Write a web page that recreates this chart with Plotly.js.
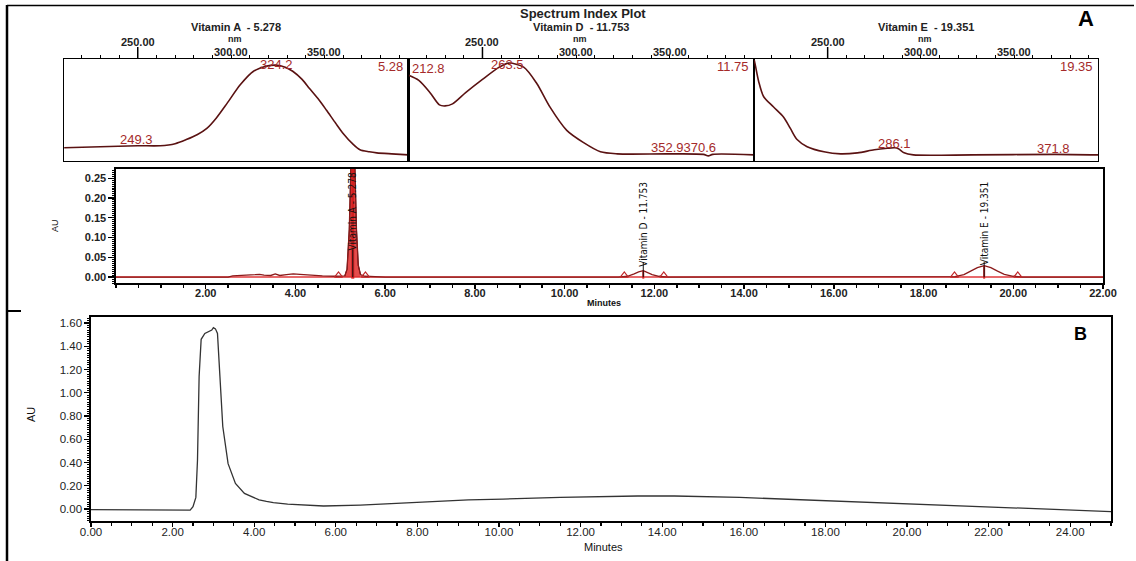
<!DOCTYPE html>
<html>
<head>
<meta charset="utf-8">
<script src="https://cdn.plot.ly/plotly-3.0.1.min.js"></script>
<style>html,body{margin:0;padding:0;background:#fff;}#chart{width:1136px;height:561px;}</style>
</head>
<body>
<div id="chart"></div>
<script>
// ---------- Spectrum Index Plot data (wavelength nm, relative absorbance) ----------
const spectrumTitles = ['Vitamin A  - 5.278', 'Vitamin D  - 11.753', 'Vitamin E  - 19.351'];
const spectrumRT = ['5.28', '11.75', '19.35'];
const vitA_nm  = [210.6, 230, 250, 262, 270, 276, 282, 287, 292, 298, 305, 312, 319, 324, 329, 333, 338, 342, 347, 351, 356, 360, 365, 369, 374, 378, 386, 395];
const vitA_abs = [0.13, 0.14, 0.15, 0.15, 0.17, 0.21, 0.26, 0.32, 0.42, 0.57, 0.75, 0.88, 0.93, 0.94, 0.92, 0.88, 0.80, 0.71, 0.60, 0.50, 0.37, 0.27, 0.17, 0.11, 0.09, 0.08, 0.07, 0.06];
const vitD_nm  = [210.6, 216, 222, 227, 230, 234, 241, 250, 259, 264, 272, 279, 286, 295, 304, 313, 322, 349, 368, 370.6, 373, 395];
const vitD_abs = [0.84, 0.79, 0.67, 0.55, 0.54, 0.56, 0.67, 0.80, 0.92, 0.96, 0.92, 0.76, 0.53, 0.30, 0.18, 0.09, 0.07, 0.07, 0.065, 0.05, 0.065, 0.06];
const vitE_nm  = [210.6, 211.2, 213, 215.7, 221, 226.4, 230, 233.6, 239, 248, 257, 266, 275, 282, 286, 288, 291, 296, 328, 371.8, 395];
const vitE_abs = [0.99, 0.94, 0.78, 0.63, 0.53, 0.43, 0.32, 0.21, 0.14, 0.09, 0.07, 0.08, 0.11, 0.125, 0.13, 0.12, 0.08, 0.06, 0.06, 0.065, 0.06];
const specAxisLabels = [250, 300, 350];
// peak wavelength labels per panel: [text, wavelength, absorbance position]
const specA_labels = [['249.3', 249.3, 0.21], ['324.2', 324.2, 0.945]];
const specD_labels = [['263.5', 263.5, 0.95], ['352.9370.6', 357.3, 0.137]];
const specE_labels = [['286.1', 285.8, 0.176], ['371.8', 371.0, 0.118]];
const specD_left = ['212.8', 211.2, 0.91];

// ---------- Chromatogram A (minutes, AU) ----------
const chromA_time = [0, 2.5, 2.6, 2.7, 2.9, 3.1, 3.2, 3.3, 3.45, 3.55, 3.65, 3.8, 3.95, 4.1, 4.3, 4.6, 4.9, 5.0, 5.1, 5.15, 5.2, 5.24, 5.278, 5.32, 5.36, 5.4, 5.45, 5.55, 5.7, 6.0, 11.2, 11.4, 11.55, 11.65, 11.753, 11.85, 11.95, 12.1, 12.3, 18.7, 18.9, 19.05, 19.2, 19.351, 19.5, 19.65, 19.8, 20.0, 20.2, 22];
const chromA_au   = [0, 0, 0.003, 0.004, 0.005, 0.006, 0.007, 0.005, 0.004, 0.008, 0.004, 0.006, 0.008, 0.007, 0.005, 0.003, 0.002, 0.002, 0.003, 0.02, 0.12, 0.30, 0.45, 0.30, 0.12, 0.03, 0.006, 0.002, 0.001, 0, 0, 0.002, 0.008, 0.013, 0.016, 0.012, 0.006, 0.002, 0, 0.001, 0.006, 0.015, 0.024, 0.029, 0.024, 0.015, 0.007, 0.002, 0, 0];
const peakNames = ['Vitamin A - 5.278', 'Vitamin D - 11.753', 'Vitamin E - 19.351'];
const peakRT    = [5.278, 11.753, 19.351];
const peakApex  = [0.45, 0.016, 0.029];
const peakStart = [4.96, 11.33, 18.69];
const peakEnd   = [5.56, 12.21, 20.10];
const peakLabelY = [0.165, 0.133, 0.134];

// ---------- Chromatogram B (minutes, AU) ----------
const chromB_time = [0, 1.3, 2.43, 2.5, 2.57, 2.61, 2.65, 2.7, 2.79, 2.96, 3.0, 3.05, 3.1, 3.16, 3.23, 3.36, 3.54, 3.76, 4.12, 4.3, 4.47, 4.82, 5.7, 6.6, 7.5, 8.4, 9.25, 10.1, 11.5, 13.4, 14.3, 15.9, 16.9, 18.7, 20.4, 22.2, 23.9, 25];
const chromB_au   = [-0.005, -0.01, -0.01, 0.02, 0.10, 0.42, 1.14, 1.46, 1.51, 1.54, 1.56, 1.55, 1.51, 1.14, 0.71, 0.39, 0.22, 0.135, 0.078, 0.065, 0.055, 0.043, 0.026, 0.034, 0.049, 0.063, 0.078, 0.086, 0.10, 0.112, 0.112, 0.10, 0.086, 0.063, 0.04, 0.014, -0.01, -0.022];

// ---------- layout helpers ----------
const W = 1136, H = 561;
const px = v => v / W;
const py = v => 1 - v / H;
const SPEC_RED = '#a52a2a';
const SPEC_LINE = '#5a1212';
const FONT = 'Liberation Sans, Arial, sans-serif';
const NARROW = 'Liberation Sans Narrow, DejaVu Sans Condensed, Arial Narrow, sans-serif';

const specDomainsX = [[px(64), px(408.5)], [px(408.5), px(754)], [px(754), px(1098)]];
const specDomainY = [py(161), py(59)];
const specData = [[vitA_nm, vitA_abs], [vitD_nm, vitD_abs], [vitE_nm, vitE_abs]];

const traces = [];
const layout = {
  width: W, height: H,
  margin: {l: 0, r: 0, t: 0, b: 0, pad: 0},
  paper_bgcolor: '#fff', plot_bgcolor: 'rgba(0,0,0,0)',
  showlegend: false,
  font: {family: FONT, color: '#111'},
  annotations: [], shapes: []
};

specData.forEach((d, i) => {
  const n = i + 1;
  const xa = 'x' + n, ya = 'y' + n;
  traces.push({x: d[0], y: d[1], xaxis: xa, yaxis: ya, type: 'scatter', mode: 'lines',
    line: {color: SPEC_LINE, width: 1.6, shape: 'spline', smoothing: 0.8}, hoverinfo: 'skip'});
  layout['xaxis' + n] = {domain: specDomainsX[i], range: [210.5, 395], anchor: ya, side: 'top',
    showline: true, mirror: true, linecolor: '#000', linewidth: 1.4, ticks: 'outside', ticklen: 3,
    tickcolor: '#000', tickwidth: 1, tick0: 0, dtick: 10, showticklabels: false, showgrid: false, zeroline: false, fixedrange: true};
  layout['yaxis' + n] = {domain: specDomainY, range: [0, 1], anchor: xa, showline: true, mirror: true,
    linecolor: '#000', linewidth: 1.4, ticks: '', showticklabels: false, showgrid: false, zeroline: false, fixedrange: true};
  layout.annotations.push({xref: xa + ' domain', yref: 'paper', x: 0.5, y: py(27), text: spectrumTitles[i],
    showarrow: false, font: {size: 11, family: FONT, weight: 'bold', color: '#222'}, xanchor: 'center', yanchor: 'middle'});
  layout.annotations.push({xref: xa, yref: 'paper', x: 302, y: py(39), text: 'nm',
    showarrow: false, font: {size: 9, family: FONT, weight: 'bold', color: '#222'}, xanchor: 'center', yanchor: 'middle'});
  specAxisLabels.forEach((v, k) => {
    layout.annotations.push({xref: xa, yref: 'paper', x: v, y: py(k === 0 ? 42 : 52), text: v.toFixed(2),
      showarrow: false, font: {size: 11, family: FONT, weight: 'bold', color: '#222'}, xanchor: 'center', yanchor: 'middle'});
  });
  layout.shapes.push({type: 'line', xref: xa, yref: 'paper', x0: specAxisLabels[0], x1: specAxisLabels[0],
    y0: py(47), y1: py(59), line: {color: '#000', width: 1.5}});
  layout.annotations.push({xref: xa + ' domain', yref: ya, x: 0.99, y: 0.925, text: spectrumRT[i],
    showarrow: false, font: {size: 13, family: FONT, color: SPEC_RED}, xanchor: 'right', yanchor: 'middle'});
});

const addSpecLabels = (arr, n) => arr.forEach(l => {
  layout.annotations.push({xref: 'x' + n, yref: 'y' + n, x: l[1], y: l[2], text: l[0], showarrow: false,
    font: {size: 13, family: FONT, color: SPEC_RED}, xanchor: 'center', yanchor: 'middle'});
});
addSpecLabels(specA_labels, 1);
addSpecLabels(specD_labels, 2);
addSpecLabels(specE_labels, 3);
layout.annotations.push({xref: 'x2', yref: 'y2', x: specD_left[1], y: specD_left[2], text: specD_left[0], showarrow: false,
  font: {size: 13, family: FONT, color: SPEC_RED}, xanchor: 'left', yanchor: 'middle'});

layout.annotations.push({xref: 'paper', yref: 'paper', x: px(583), y: py(14), text: 'Spectrum Index Plot', showarrow: false,
  font: {size: 13, family: FONT, weight: 'bold', color: '#222'}, xanchor: 'center', yanchor: 'middle'});

// ---------- Chromatogram A ----------
traces.push({x: [0, 22], y: [0, 0], xaxis: 'x4', yaxis: 'y4', type: 'scatter', mode: 'lines',
  line: {color: '#e0393b', width: 1.6}, hoverinfo: 'skip'});
const aIdx = chromA_time.map((t, i) => i).filter(i => chromA_time[i] >= peakStart[0] + 0.14 && chromA_time[i] <= peakEnd[0] - 0.1);
traces.push({x: aIdx.map(i => chromA_time[i]), y: aIdx.map(i => chromA_au[i]), xaxis: 'x4', yaxis: 'y4', type: 'scatter',
  mode: 'lines', fill: 'tozeroy', fillcolor: 'rgba(225,45,45,0.85)', line: {color: '#4a0d0d', width: 1}, hoverinfo: 'skip'});
traces.push({x: chromA_time, y: chromA_au, xaxis: 'x4', yaxis: 'y4', type: 'scatter', mode: 'lines',
  line: {color: '#8b1a1a', width: 1.3}, hoverinfo: 'skip'});
traces.push({x: peakStart.concat(peakEnd), y: peakStart.concat(peakEnd).map(() => 0.004), xaxis: 'x4', yaxis: 'y4',
  type: 'scatter', mode: 'markers', marker: {symbol: 'triangle-up-open', size: 7, color: '#c0282a', line: {width: 1.2, color: '#c0282a'}}, hoverinfo: 'skip'});

layout.xaxis4 = {domain: [px(116), px(1103)], range: [0, 22], anchor: 'y4', showline: true, mirror: true, linecolor: '#000', linewidth: 1.6,
  tickmode: 'array', tickvals: [2, 4, 6, 8, 10, 12, 14, 16, 18, 20, 22], ticktext: ['2.00', '4.00', '6.00', '8.00', '10.00', '12.00', '14.00', '16.00', '18.00', '20.00', '22.00'],
  ticks: 'outside', ticklen: 4, tickwidth: 1.5, tickcolor: '#000', ticklabelstandoff: -5,
  minor: {tickmode: 'linear', tick0: 0, dtick: 0.5, ticks: 'outside', ticklen: 3, tickwidth: 1.5, tickcolor: '#000', showgrid: false},
  tickfont: {size: 11, family: FONT, weight: 'bold', color: '#222'}, showgrid: false, zeroline: false, fixedrange: true};
layout.yaxis4 = {domain: [py(283), py(169)], range: [-0.015, 0.273], anchor: 'x4', showline: true, mirror: true, linecolor: '#000', linewidth: 1.6,
  tickmode: 'linear', tick0: 0, dtick: 0.05, tickformat: '.2f', ticks: 'outside', ticklen: 6, tickwidth: 1.2, tickcolor: '#000',
  minor: {tickmode: 'linear', tick0: 0, dtick: 0.005, ticks: 'outside', ticklen: 2, tickwidth: 1, tickcolor: '#000', showgrid: false},
  tickfont: {size: 11, family: FONT, weight: 'bold', color: '#222'}, showgrid: false, zeroline: false, fixedrange: true};

peakRT.forEach((rt, i) => {
  layout.shapes.push({type: 'line', xref: 'x4', yref: 'y4', x0: rt, x1: rt, y0: -0.004, y1: Math.min(peakApex[i], 0.273),
    line: {color: '#d42020', width: i === 0 ? 3 : 2}});
  layout.shapes.push({type: 'line', xref: 'x4', yref: 'y4', x0: rt, x1: rt, y0: 0, y1: peakLabelY[i] - 0.095,
    line: {color: '#111', width: 1}});
  layout.annotations.push({xref: 'x4', yref: 'y4', x: rt, y: peakLabelY[i], text: peakNames[i], textangle: -90, showarrow: false,
    font: {size: 10, family: NARROW, color: '#111'}, xanchor: 'center', yanchor: 'middle'});
});
layout.annotations.push({xref: 'paper', yref: 'paper', x: px(55), y: py(226), text: 'AU', textangle: -90, showarrow: false,
  font: {size: 9, family: FONT, color: '#111'}, xanchor: 'center', yanchor: 'middle'});
layout.annotations.push({xref: 'paper', yref: 'paper', x: px(604), y: py(303), text: 'Minutes', showarrow: false,
  font: {size: 9, family: FONT, weight: 'bold', color: '#111'}, xanchor: 'center', yanchor: 'middle'});
layout.annotations.push({xref: 'paper', yref: 'paper', x: px(1086), y: py(18), text: 'A', showarrow: false,
  font: {size: 22, family: FONT, weight: 'bold', color: '#000'}, xanchor: 'center', yanchor: 'middle'});

// ---------- Chromatogram B ----------
traces.push({x: chromB_time, y: chromB_au, xaxis: 'x5', yaxis: 'y5', type: 'scatter', mode: 'lines',
  line: {color: '#333', width: 1.3}, hoverinfo: 'skip'});
layout.xaxis5 = {domain: [px(91), px(1111)], range: [0, 25], anchor: 'y5', showline: true, mirror: true, linecolor: '#000', linewidth: 1.6,
  tickmode: 'linear', tick0: 0, dtick: 2, tickformat: '.2f', ticks: 'outside', ticklen: 4, tickwidth: 1.3, tickcolor: '#000', ticklabelstandoff: -4,
  minor: {tickmode: 'linear', tick0: 0, dtick: 0.5, ticks: 'outside', ticklen: 3, tickwidth: 1.3, tickcolor: '#000', showgrid: false},
  tickfont: {size: 11.5, family: FONT, color: '#222'}, showgrid: false, zeroline: false, fixedrange: true};
layout.yaxis5 = {domain: [py(521), py(317)], range: [-0.103, 1.652], anchor: 'x5', showline: true, mirror: true, linecolor: '#000', linewidth: 1.6,
  tickmode: 'linear', tick0: 0, dtick: 0.2, tickformat: '.2f', ticks: 'outside', ticklen: 5, tickwidth: 1.2, tickcolor: '#000',
  minor: {tickmode: 'linear', tick0: 0, dtick: 0.02, ticks: 'outside', ticklen: 2.5, tickwidth: 1, tickcolor: '#000', showgrid: false},
  tickfont: {size: 11.5, family: FONT, color: '#222'}, showgrid: false, zeroline: false, fixedrange: true};
layout.annotations.push({xref: 'paper', yref: 'paper', x: px(31), y: py(414), text: 'AU', textangle: -90, showarrow: false,
  font: {size: 11, family: FONT, color: '#111'}, xanchor: 'center', yanchor: 'middle'});
layout.annotations.push({xref: 'paper', yref: 'paper', x: px(603), y: py(547), text: 'Minutes', showarrow: false,
  font: {size: 11, family: FONT, color: '#111'}, xanchor: 'center', yanchor: 'middle'});
layout.annotations.push({xref: 'paper', yref: 'paper', x: px(1080), y: py(334), text: 'B', showarrow: false,
  font: {size: 18, family: FONT, weight: 'bold', color: '#000'}, xanchor: 'center', yanchor: 'middle'});

// ---------- outer frame lines ----------
layout.shapes.push({type: 'line', xref: 'paper', yref: 'paper', x0: px(7), x1: px(7), y0: py(5), y1: 0, line: {color: '#000', width: 2.5}});
layout.shapes.push({type: 'line', xref: 'paper', yref: 'paper', x0: px(7), x1: px(1134), y0: py(5.5), y1: py(5.5), line: {color: '#000', width: 1.5}});
layout.shapes.push({type: 'line', xref: 'paper', yref: 'paper', x0: px(7), x1: px(21), y0: py(311), y1: py(311), line: {color: '#000', width: 2}});

Plotly.newPlot('chart', traces, layout, {staticPlot: true, displayModeBar: false});
</script>
</body>
</html>
